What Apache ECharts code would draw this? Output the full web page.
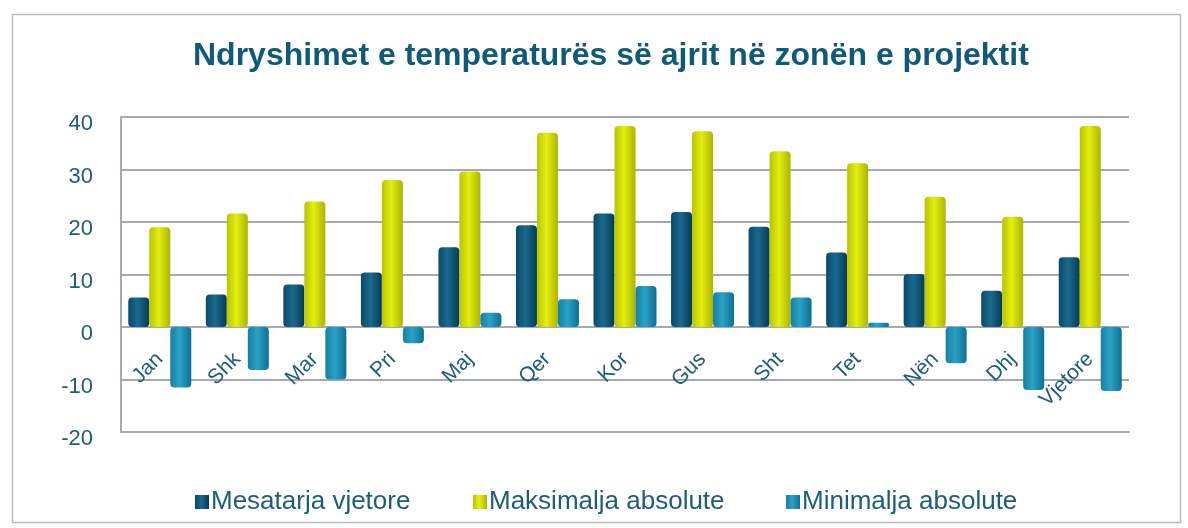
<!DOCTYPE html>
<html>
<head>
<meta charset="utf-8">
<script src="https://cdn.jsdelivr.net/npm/echarts@6/dist/echarts.min.js"></script>
<style>
html,body{margin:0;padding:0;background:#fff;}
#chart{width:1188px;height:528px;}
</style>
</head>
<body>
<div id="chart"></div>
<script>
const categories = ['Jan','Shk','Mar','Pri','Maj','Qer','Kor','Gus','Sht','Tet','Nën','Dhj','Vjetore'];
const mesatarja = [5.6, 6.2, 8.1, 10.4, 15.2, 19.4, 21.6, 21.9, 19.1, 14.2, 10.1, 6.9, 13.3];
const maksimalja = [19.0, 21.6, 23.9, 28.0, 29.6, 37.0, 38.3, 37.3, 33.5, 31.2, 24.8, 21.0, 38.3];
const minimalja = [-11.5, -8.2, -10.0, -3.1, 2.7, 5.3, 7.8, 6.6, 5.6, 0.8, -6.9, -12.0, -12.2];
const seriesNames = ['Mesatarja vjetore', 'Maksimalja absolute', 'Minimalja absolute'];
const yTicks = [-20, -10, 0, 10, 20, 30, 40];

function cyl(c1, c2, c3) {
  return new echarts.graphic.LinearGradient(0, 0, 1, 0, [
    {offset: 0, color: c1}, {offset: 0.45, color: c2}, {offset: 1, color: c3}
  ]);
}

const FONT = 'Liberation Sans, Arial, sans-serif';
const textColor = '#1d5c7c';
const legendLefts = [190, 468, 781];

const chart = echarts.init(document.getElementById('chart'));
chart.setOption({
  backgroundColor: '#fff',
  animation: false,
  color: ['#0e5677', '#c8d400', '#1a8db0'],
  title: {
    text: 'Ndryshimet e temperaturës së ajrit në zonën e projektit',
    left: 188, top: 35,
    textStyle: {color: '#0f5a78', fontSize: 32, fontWeight: 'bold', fontFamily: FONT}
  },
  graphic: [{
    type: 'rect', left: 10, top: 12, shape: {width: 1168, height: 508},
    style: {fill: 'none', stroke: '#b8bcc0', lineWidth: 1.5}, silent: true
  }],
  legend: seriesNames.map((n, i) => ({
    left: legendLefts[i], top: 484, itemWidth: 14, itemHeight: 14, itemGap: 5,
    icon: 'rect',
    textStyle: {color: textColor, fontSize: 26, fontFamily: FONT, padding: [0, 0, 0, -3]},
    data: [n]
  })),
  grid: {left: 121, right: 59, top: 117, bottom: 96},
  xAxis: {
    type: 'category', data: categories,
    axisLine: {show: true, onZero: false, lineStyle: {color: '#a3aab2', width: 2}},
    axisTick: {show: false},
    axisLabel: {rotate: 45, interval: 0, color: textColor, fontSize: 21, margin: -76,
      fontFamily: FONT},
    splitLine: {show: false}
  },
  yAxis: {
    type: 'value', min: yTicks[0], max: yTicks[yTicks.length - 1], interval: 10,
    axisLine: {show: true, lineStyle: {color: '#a3aab2', width: 2}},
    axisTick: {show: false},
    axisLabel: {color: textColor, fontSize: 22, margin: 28, fontFamily: FONT,
      verticalAlign: 'top', lineHeight: 14},
    splitLine: {lineStyle: {color: '#a3aab2', width: 2}}
  },
  series: [
    {name: seriesNames[0], type: 'bar', data: mesatarja, barWidth: 21, barGap: '0%',
      itemStyle: {color: cyl('#0a4a68', '#1a6a8e', '#063a55'), borderRadius: 4}},
    {name: seriesNames[1], type: 'bar', data: maksimalja, barWidth: 21, barGap: '0%',
      itemStyle: {color: cyl('#b8c400', '#e4ee10', '#aab500'), borderRadius: 4}},
    {name: seriesNames[2], type: 'bar', data: minimalja, barWidth: 21, barGap: '0%',
      itemStyle: {color: cyl('#1580a5', '#2aa2c6', '#0e6f92'), borderRadius: 4}}
  ]
});
</script>
</body>
</html>
